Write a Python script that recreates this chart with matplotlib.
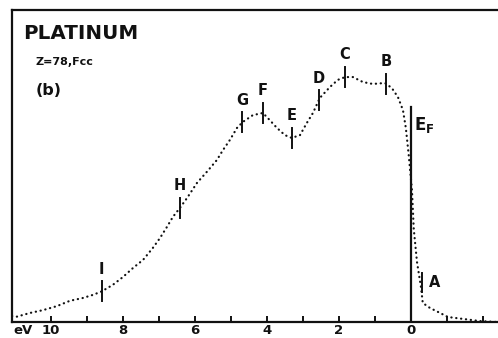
import numpy as np
import matplotlib
matplotlib.use("Agg")
import matplotlib.pyplot as plt
from matplotlib.transforms import offset_copy

# Binding energy (eV, positive below E_F) and photoemission intensity (arb. units)
energy = [11.08, 10.95, 10.58, 10.22, 9.83, 9.47, 9.11, 8.83, 8.59, 8.28, 8.00,
          7.72, 7.44, 7.17, 6.97, 6.78, 6.61, 6.42, 6.22, 5.94, 5.67, 5.39,
          5.22, 5.03, 4.83, 4.67, 4.39, 4.11, 3.92, 3.72, 3.50, 3.31, 3.08,
          2.89, 2.72, 2.53, 2.25, 2.03, 1.83, 1.61, 1.33, 1.06, 0.72, 0.53,
          0.36, 0.22, 0.14, 0.06, -0.03, -0.08, -0.17, -0.28, -0.33, -0.53,
          -0.81, -1.03, -1.44, -1.92, -2.39]
intensity = [1.9, 1.7, 2.9, 3.8, 5.1, 6.8, 7.7, 8.7, 9.8, 11.9, 14.4,
             17.3, 19.9, 23.7, 26.9, 30.4, 33.7, 36.5, 39.7, 44.6, 48.1, 51.9,
             55.1, 58.3, 62.2, 64.1, 66.3, 67.0, 64.7, 62.2, 59.9, 59.0, 59.9,
             63.8, 67.0, 71.8, 75.3, 77.6, 78.5, 78.5, 76.9, 76.3, 76.6, 75.0,
             72.1, 67.9, 62.2, 53.5, 42.3, 29.8, 19.2, 11.2, 6.1, 4.5,
             2.9, 1.6, 1.0, 0.3, 0.0]

# Feature labels and their energies
feature_labels = ["I", "H", "G", "F", "E", "D", "C", "B"]
feature_energy = [8.59, 6.42, 4.68, 4.11, 3.31, 2.56, 1.83, 0.68]
a_label = "A"
a_energy = -0.30

tick_values = [10, 9, 8, 7, 6, 5, 4, 3, 2, 1, 0, -1, -2]
tick_labels = ["10", "", "8", "", "6", "", "4", "", "2", "", "0", "", ""]

fermi_top = 68.9

W, H = 498, 338
fig = plt.figure(figsize=(W / 100, H / 100), dpi=100)
ax = fig.add_axes([12 / W, 16 / H, (W - 12) / W, 312 / H])
ax.set_xlim(11.08, -2.42)
ax.set_ylim(0, 100)

font = "DejaVu Sans"
ink = "#111111"

ax.plot(energy, intensity, color=ink, lw=1.6, linestyle=(0, (0.1, 2.1)),
        dash_capstyle="round", solid_capstyle="round")

# Fermi edge line
ax.plot([0, 0], [0, fermi_top], color=ink, lw=1.6)
ax.text(0, fermi_top, r"$\mathbf{E}_{\mathbf{F}}$", color=ink, fontsize=12,
        ha="left", va="top",
        transform=offset_copy(ax.transData, fig=fig, x=2.5, y=-6, units="points"))

half = 3.2
for lab, e in zip(feature_labels, feature_energy):
    yv = np.interp(-e, -np.array(energy), np.array(intensity))
    ax.plot([e, e], [yv - half, yv + half], color=ink, lw=1.4)
    ax.text(e, yv + half, lab, color=ink, fontsize=10.5, fontweight="bold",
            family=font, ha="center", va="bottom",
            transform=offset_copy(ax.transData, fig=fig, x=0, y=3.5, units="points"))

ya = np.interp(-a_energy, -np.array(energy), np.array(intensity))
ax.plot([a_energy, a_energy], [ya + 0.5, ya + 6.5], color=ink, lw=1.4)
ax.text(a_energy, ya + 3.5, a_label, color=ink, fontsize=10.5, fontweight="bold",
        family=font, ha="left", va="center",
        transform=offset_copy(ax.transData, fig=fig, x=5, y=0, units="points"))

for s in ["left", "bottom", "top"]:
    ax.spines[s].set_linewidth(1.6)
    ax.spines[s].set_color(ink)
ax.spines["right"].set_visible(False)

ax.set_xticks(tick_values)
ax.set_xticklabels(tick_labels, fontsize=9.5, fontweight="bold", family=font, color=ink)
ax.tick_params(axis="x", direction="in", length=4.5, width=1.4, pad=1.5, color=ink)
ax.set_yticks([])

fig.text(23.5 / W, 1 - 330 / H, "eV", fontsize=9.5, fontweight="bold", family=font,
         color=ink, ha="center", va="center")
fig.text(23 / W, 1 - 39 / H, "PLATINUM", fontsize=14.3, fontweight="bold", family=font,
         color=ink, ha="left", va="baseline")
fig.text(36 / W, 1 - 65 / H, "Z=78,Fcc", fontsize=8, fontweight="bold", family=font,
         color=ink, ha="left", va="baseline")
fig.text(36 / W, 1 - 91 / H, "(b)", fontsize=11.5, fontweight="bold", family=font,
         color=ink, ha="left", va="center")

fig.savefig("out.png", dpi=100)
